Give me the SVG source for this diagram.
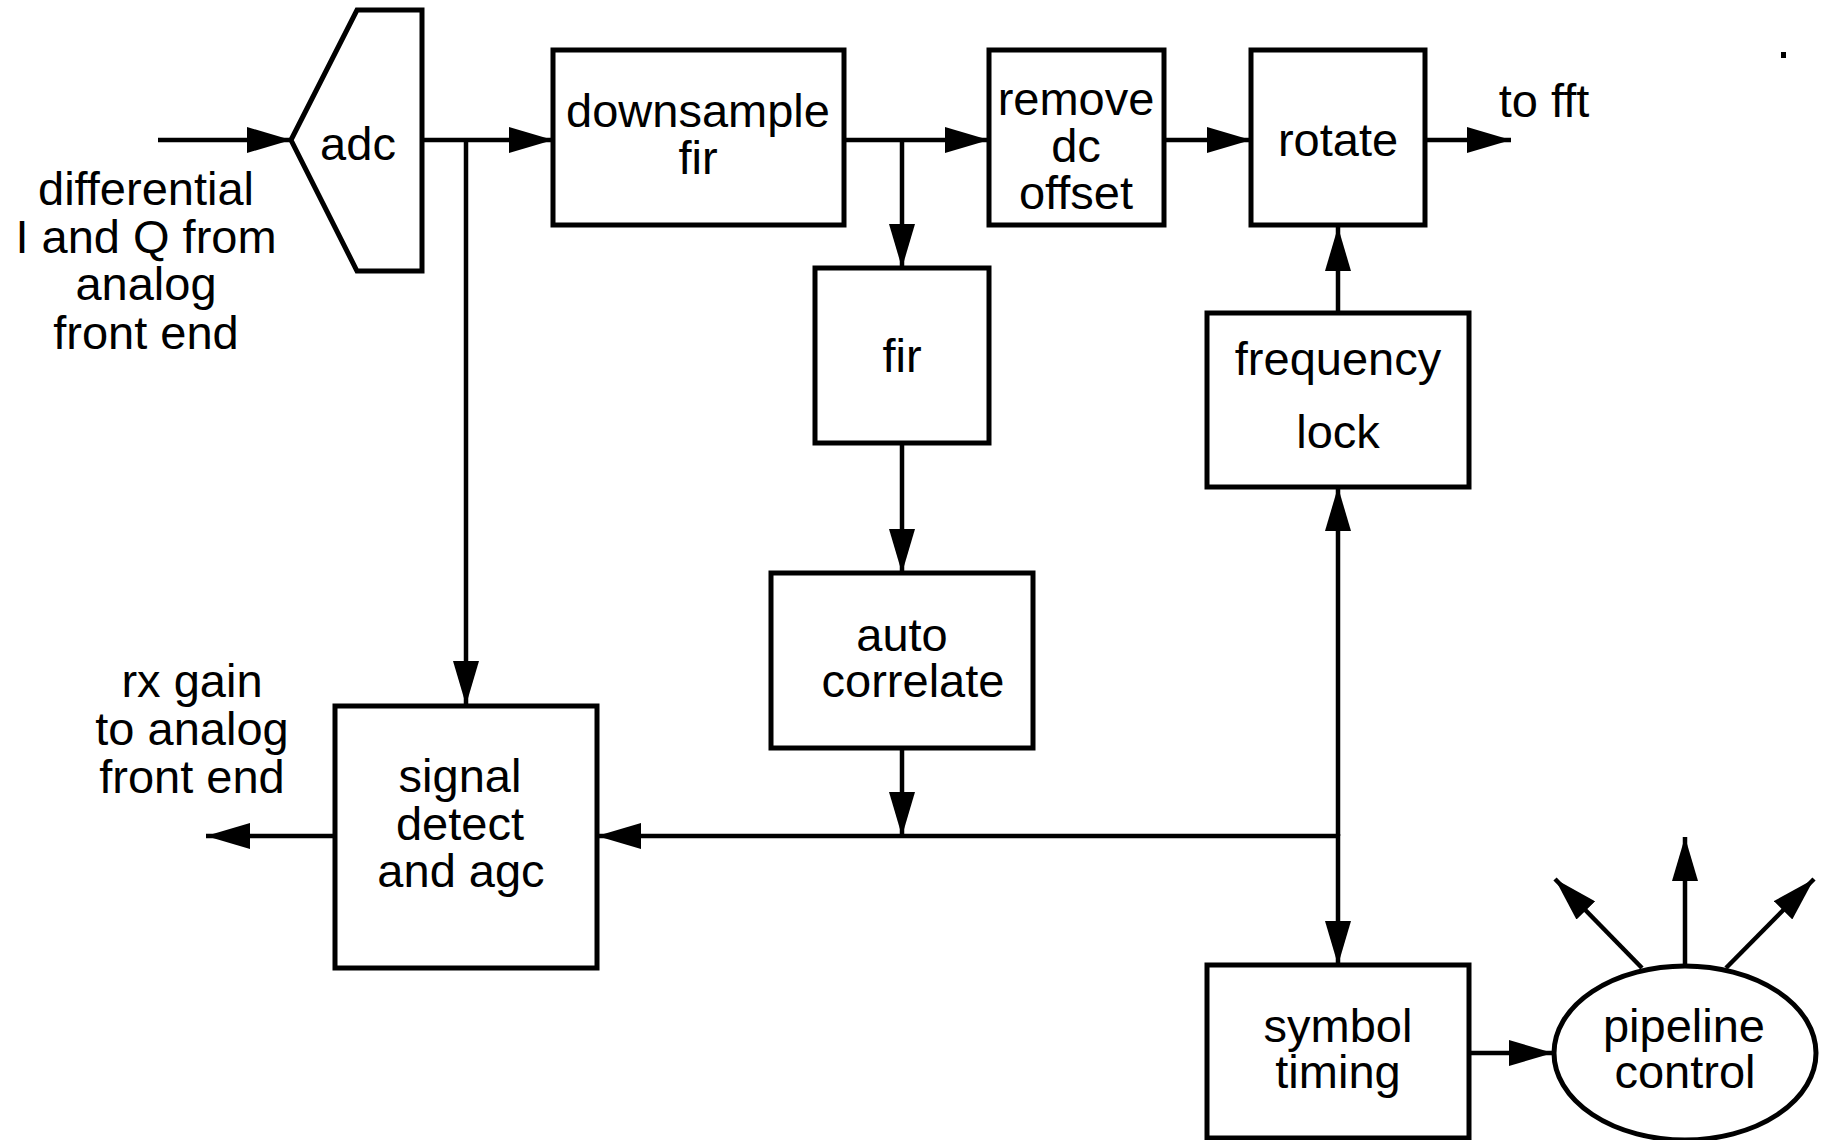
<svg xmlns="http://www.w3.org/2000/svg" width="1823" height="1140" viewBox="0 0 1823 1140">
<style>
.box{fill:#fff;stroke:#000;stroke-width:5}
.ln{fill:none;stroke:#000;stroke-width:4.5}
.lbl{font-family:"Liberation Sans",Arial,Helvetica,sans-serif;font-size:47px;fill:#000;text-anchor:middle}
</style>
<defs>
<marker id="ah" markerUnits="userSpaceOnUse" markerWidth="44" markerHeight="26" refX="44" refY="13" orient="auto" viewBox="0 0 44 26">
<path d="M0,0 L44,13 L0,26 z" fill="#000"/>
</marker>
</defs>
<rect width="1823" height="1140" fill="#fff"/>

<g id="connectors">
<line class="ln" x1="158" y1="140" x2="291" y2="140" marker-end="url(#ah)"/>
<line class="ln" x1="422" y1="140" x2="553" y2="140" marker-end="url(#ah)"/>
<line class="ln" x1="466" y1="140" x2="466" y2="705" marker-end="url(#ah)"/>
<line class="ln" x1="844" y1="140" x2="989" y2="140" marker-end="url(#ah)"/>
<line class="ln" x1="902" y1="140" x2="902" y2="268" marker-end="url(#ah)"/>
<line class="ln" x1="1164" y1="140" x2="1251" y2="140" marker-end="url(#ah)"/>
<line class="ln" x1="1425" y1="140" x2="1511" y2="140" marker-end="url(#ah)"/>
<line class="ln" x1="902" y1="443" x2="902" y2="573" marker-end="url(#ah)"/>
<line class="ln" x1="902" y1="748" x2="902" y2="836" marker-end="url(#ah)"/>
<line class="ln" x1="1338" y1="313" x2="1338" y2="227" marker-end="url(#ah)"/>
<line class="ln" x1="1338" y1="836" x2="1338" y2="487" marker-end="url(#ah)"/>
<line class="ln" x1="1338" y1="834" x2="1338" y2="965" marker-end="url(#ah)"/>
<line class="ln" x1="1340" y1="836" x2="597" y2="836" marker-end="url(#ah)"/>
<line class="ln" x1="335" y1="836" x2="206" y2="836" marker-end="url(#ah)"/>
<line class="ln" x1="1469" y1="1053" x2="1553" y2="1053" marker-end="url(#ah)"/>
<line class="ln" x1="1685" y1="966" x2="1685" y2="837" marker-end="url(#ah)"/>
<line class="ln" x1="1642" y1="968" x2="1555" y2="879" marker-end="url(#ah)"/>
<line class="ln" x1="1726" y1="968" x2="1814" y2="879" marker-end="url(#ah)"/>
</g>

<g id="input-label">
<text class="lbl" x="146" y="205">differential</text>
<text class="lbl" x="146" y="253">I and Q from</text>
<text class="lbl" x="146" y="300">analog</text>
<text class="lbl" x="146" y="349">front end</text>
</g>

<g id="adc">
<polygon class="box" points="291,140 357,10 422,10 422,271 357,271"/>
<text class="lbl" x="358" y="160">adc</text>
</g>

<g id="downsample">
<rect class="box" x="553" y="50" width="291" height="175"/>
<text class="lbl" x="698" y="127">downsample</text>
<text class="lbl" x="698" y="174">fir</text>
</g>

<g id="remove-dc">
<rect class="box" x="989" y="50" width="175" height="175"/>
<text class="lbl" x="1076" y="115">remove</text>
<text class="lbl" x="1076" y="162">dc</text>
<text class="lbl" x="1076" y="209">offset</text>
</g>

<g id="rotate">
<rect class="box" x="1251" y="50" width="174" height="175"/>
<text class="lbl" x="1338" y="156">rotate</text>
</g>

<g id="to-fft">
<text class="lbl" x="1544" y="117">to fft</text>
</g>

<rect id="speck" x="1781" y="52" width="5" height="6" fill="#000"/>

<g id="fir">
<rect class="box" x="815" y="268" width="174" height="175"/>
<text class="lbl" x="902" y="372">fir</text>
</g>

<g id="frequency-lock">
<rect class="box" x="1207" y="313" width="262" height="174"/>
<text class="lbl" x="1338" y="375">frequency</text>
<text class="lbl" x="1338" y="448">lock</text>
</g>

<g id="auto-correlate">
<rect class="box" x="771" y="573" width="262" height="175"/>
<text class="lbl" x="902" y="651">auto</text>
<text class="lbl" x="913" y="697">correlate</text>
</g>

<g id="signal-detect">
<rect class="box" x="335" y="706" width="262" height="262"/>
<text class="lbl" x="460" y="792">signal</text>
<text class="lbl" x="460" y="840">detect</text>
<text class="lbl" x="461" y="887">and agc</text>
</g>

<g id="rx-gain">
<text class="lbl" x="192" y="697">rx gain</text>
<text class="lbl" x="192" y="745">to analog</text>
<text class="lbl" x="192" y="793">front end</text>
</g>

<g id="symbol-timing">
<rect class="box" x="1207" y="965" width="262" height="173"/>
<text class="lbl" x="1338" y="1042">symbol</text>
<text class="lbl" x="1338" y="1088">timing</text>
</g>

<g id="pipeline-control">
<ellipse class="box" cx="1685" cy="1053" rx="131" ry="87"/>
<text class="lbl" x="1684" y="1042">pipeline</text>
<text class="lbl" x="1685" y="1088">control</text>
</g>
</svg>
